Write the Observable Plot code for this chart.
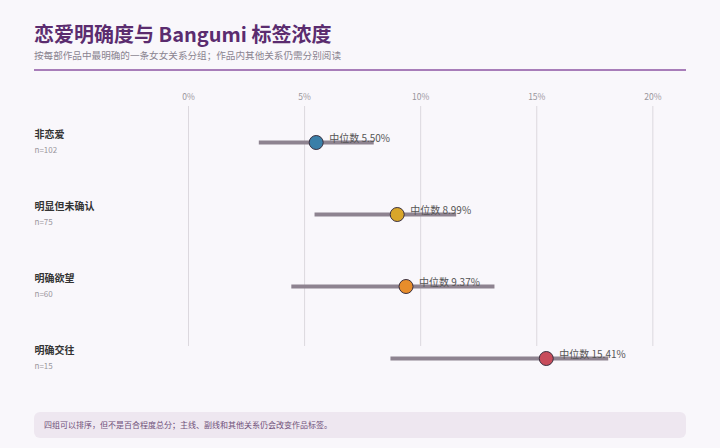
<!DOCTYPE html>
<html>
<head>
<meta charset="utf-8">
<script src="https://cdn.jsdelivr.net/npm/d3@7"></script>
<script src="https://cdn.jsdelivr.net/npm/@observablehq/plot@0.6"></script>
<style>
  html, body { margin: 0; padding: 0; background: #f9f7fb; }
  body { width: 720px; height: 448px; overflow: hidden; font-family: "Noto Sans CJK SC", "Noto Sans", sans-serif; }
  .head { padding: 0 34px; }
  h1 { margin: 0; padding-top: 22px; font-size: 20px; line-height: 24px; color: #5b2c6f; font-weight: 700; }
  .sub { margin-top: 2px; font-size: 9.6px; line-height: 14px; color: #8a8490; }
  .rule { margin-top: 7px; height: 1.5px; background: #a87db9; }
  #chart svg { display: block; }
  .foot { margin: 11px 34px 0 34px; height: 26px; border-radius: 6px; background: #eee7f0; color: #6e5079; font-size: 8px; line-height: 26px; padding-left: 10px; box-sizing: border-box; }
</style>
</head>
<body>
<div class="head">
  <h1>恋爱明确度与 Bangumi 标签浓度</h1>
  <div class="sub">按每部作品中最明确的一条女女关系分组；作品内其他关系仍需分别阅读</div>
  <div class="rule"></div>
</div>
<div id="chart"></div>
<div class="foot">四组可以排序，但不是百合程度总分；主线、副线和其他关系仍会改变作品标签。</div>
<script>
const groups = ["非恋爱", "明显但未确认", "明确欲望", "明确交往"];
const counts = [102, 75, 60, 15];
const medians = [5.50, 8.99, 9.37, 15.41];
const lows = [3.05, 5.45, 4.45, 8.72];
const highs = [8.0, 11.55, 13.2, 18.1];
const colors = ["#3a7fa8", "#d9a62a", "#e88d2b", "#c84c5b"];
const xTicks = [0, 5, 10, 15, 20];

const data = groups.map((g, i) => ({
  group: g, n: counts[i], median: medians[i], low: lows[i], high: highs[i], color: colors[i]
}));

const chart = Plot.plot({
  width: 720,
  height: 330,
  marginLeft: 188,
  marginRight: 34,
  marginTop: 35,
  marginBottom: 55,
  style: { background: "transparent", fontFamily: "'Noto Sans CJK SC', 'Noto Sans', sans-serif" },
  x: { domain: [0, 21.45], ticks: xTicks },
  y: { type: "point", domain: groups, range: [71, 287], padding: 0, axis: null },
  color: { type: "identity" },
  marks: [
    Plot.gridX(xTicks, { stroke: "#dcd8de", strokeOpacity: 1 }),
    Plot.axisX(xTicks, { anchor: "top", tickSize: 0, tickPadding: 7, tickFormat: d => d + "%", fontSize: 8.5, fill: "#9a969c" }),
    Plot.ruleY(data, { y: "group", x1: "low", x2: "high", stroke: "#8e8390", strokeWidth: 4 }),
    Plot.dot(data, { x: "median", y: "group", r: 7, fill: "color", stroke: "#3a3040", strokeWidth: 1 }),
    Plot.text(data, { x: "median", y: "group", text: d => `中位数 ${d.median.toFixed(2)}%`, dx: 13, dy: -4, textAnchor: "start", fontSize: 10, fill: "#555" }),
    Plot.text(data, { y: "group", text: "group", frameAnchor: "left", dx: -154, dy: -8, textAnchor: "start", fontSize: 10, fontWeight: "bold", fill: "#333" }),
    Plot.text(data, { y: "group", text: d => `n=${d.n}`, frameAnchor: "left", dx: -154, dy: 8, textAnchor: "start", fontSize: 8, fill: "#9a969c" })
  ]
});
document.getElementById("chart").appendChild(chart);
</script>
</body>
</html>
